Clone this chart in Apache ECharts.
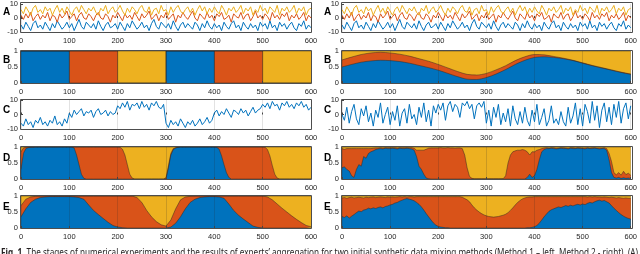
<!DOCTYPE html>
<html><head><meta charset="utf-8">
<script src="https://cdn.jsdelivr.net/npm/echarts/dist/echarts.min.js"></script>
<style>html,body{margin:0;padding:0;background:#fff;overflow:hidden}#c{width:640px;height:254px}</style>
</head><body><div id="c"></div>
<script>
// ---------- tick labels ----------
const xTickValues = [0,100,200,300,400,500,600];
const signalTicks = [-10,0,10];
const shareTicks = [0,0.5,1];
const panelLetters = ['A','B','C','D','E'];
const captionBold = 'Fig. 1.';
const captionText = ' The stages of numerical experiments and the results of experts\u2019 aggregation for two initial synthetic data mixing methods (Method 1 \u2013 left, Method 2 - right). (A)';

// ---------- sample grids (x positions of samples) ----------
const xs5 = Array.from({length:121},(_,k)=>k*5);
const xs10 = Array.from({length:61},(_,k)=>k*10);
const xs20 = Array.from({length:31},(_,k)=>k*20);
const xs100 = [0,100,200,300,400,500,600];

// ---------- A: three source signals (step 5) ----------
const aYellow = [6,3,8,5,2,7,9,4,6,3, 8,5,7,2,6,9,4,7,3,8, 5,2,6,8,4,9,6,3,7,5, 8,4,2,7,5,9,3,6,8,4,
 6,9,5,2,7,4,8,6,3,7, 9,5,4,8,2,6,7,3,9,5, 6,2,8,4,7,9,5,3,6,8, 4,7,2,6,9,5,8,3,7,4,
 8,5,3,9,6,2,7,5,8,4, 6,9,3,7,5,8,2,6,4,9, 5,7,3,8,6,4,9,2,7,5, 8,4,6,9,3,7,5,8,2,6, 7];
const aOrange = [2,-1,3,0,4,-2,1,3,-1,2, 0,4,-2,2,1,-3,3,0,2,5, -1,1,3,-2,2,4,0,-1,3,1, -2,2,4,0,-1,3,1,-3,2,0,
 4,1,-2,3,0,2,-1,4,1,-2, 3,0,2,5,-1,1,3,-2,2,0, 4,-1,1,3,-3,2,0,4,1,-1, 2,5,0,-2,3,1,-1,4,0,2,
 -2,3,1,4,-1,0,2,-3,3,1, 0,4,-1,2,3,-2,1,5,0,2, -1,3,1,-2,4,0,2,-1,3,1, 4,-2,2,0,3,-1,1,4,-2,2, 0];
const aBlue = [-5,-8,-3,-6,-9,-4,-2,-7,-5,-8, -3,-6,-9,-4,-7,-2,-5,-8,-6,-3, -7,-4,-9,-5,-1,-6,-8,-3,-5,-7, -4,-8,-2,-6,-9,-5,-3,-7,-6,-4,
 -8,-3,-6,-9,-4,-7,-2,-5,-8,-6, -3,-7,-5,-9,-4,-1,-6,-8,-3,-5, -7,-4,-8,-2,-6,-9,-5,-3,-7,-4, -6,-8,-3,-5,-9,-4,-7,-2,-6,-8,
 -4,-7,-5,-9,-3,-6,-8,-4,-2,-7, -5,-9,-3,-6,-8,-4,-7,-5,-9,-3, -6,-4,-8,-2,-7,-5,-9,-3,-6,-4, -8,-5,-3,-7,-9,-4,-6,-2,-8,-5, -7];

// ---------- B: mixing weights ----------
const bLeftBlue   = [1,0,0,1,0,0,0];
const bLeftOrange = [0,1,0,0,1,0,0];
const bRightBlue = [0.50,0.58,0.65,0.69,0.71,0.70,0.67,0.62,0.55,0.48,0.40,0.30,0.20,0.12,0.11,0.17,0.28,0.42,0.58,0.71,0.80,0.82,0.80,0.76,0.70,0.62,0.54,0.47,0.40,0.33,0.27];
const bRightOrange = [0.22,0.23,0.24,0.25,0.25,0.24,0.23,0.22,0.21,0.20,0.18,0.17,0.16,0.15,0.14,0.13,0.13,0.12,0.12,0.11,0.09,0.06,0.03,0.015,0.01,0.01,0.01,0.01,0.01,0.01,0.01];

// ---------- C: mixed signals (step 5) ----------
const cLeft = [-6,-8,-3,-7,-5,-9,-4,-6,-2,-7,-5,-8,-4,-6,-1,-7,-5,-8,-3,-6,
 1,-2,3,0,2,4,-1,2,1,3,-2,2,4,0,1,3,-1,2,0,1,
 6,4,8,5,9,3,7,6,8,4,9,5,7,3,8,6,9,5,4,7,
 -6,-9,-4,-7,-5,-8,-3,-6,-9,-5,-7,-4,-8,-6,-3,-7,-5,-2,-6,-4,
 1,3,-1,2,0,4,1,-2,3,2,0,4,1,3,-1,2,5,1,3,4,
 7,5,8,4,9,6,7,3,8,6,9,5,7,4,8,6,9,5,7,3, 5];
const cRight = [0,-4,5,-6,2,7,-3,-7,4,-1,6,-5,1,-8,3,-2,8,-6,0,5,
 -7,2,-4,6,-8,1,4,-6,7,-3,0,-7,5,-2,8,-5,3,-8,6,1,
 7,3,8,-4,6,9,2,7,5,-2,8,6,9,4,7,-3,6,8,5,9,
 -6,3,-8,5,-2,7,-7,1,-5,4,-8,6,-3,-7,2,-6,5,-4,-8,3,
 -5,7,-7,-2,4,-8,-4,6,-6,-3,-7,2,-5,-8,5,-6,-1,8,-7,4,
 -8,7,2,-6,9,-4,6,-9,3,8,-5,5,-7,7,-2,9,-6,4,8,-3, 6];

// ---------- D: expert weights (step 5, shares) ----------
const dLeftBlue = [0.3,0.8,0.95,0.98,0.99,0.99,1,1,1,1,1,1,1,1,1,1,1,1,1,1,
 1,1,0.97,0.75,0.45,0.15,0.02,0,0,0,0,0,0,0,0,0,0,0,0,0,
 0,0,0,0,0,0,0,0,0,0,0,0,0,0,0,0,0,0,0,0,
 0,0.35,0.75,0.92,0.97,0.99,1,1,1,1,1,1,1,1,1,1,1,1,1,1,
 1,0.99,0.93,0.72,0.45,0.2,0.05,0,0,0,0,0,0,0,0,0,0,0,0,0,
 0,0,0,0,0,0,0,0,0,0,0,0,0,0,0,0,0,0,0,0, 0];
const dLeftOrange = [0.55,0.17,0.04,0.02,0.01,0.01,0,0,0,0,0,0,0,0,0,0,0,0,0,0,
 0,0,0.03,0.25,0.55,0.85,0.98,1,1,1,1,1,1,1,1,1,1,1,1,1,
 1,0.99,0.93,0.75,0.45,0.15,0.03,0,0,0,0,0,0,0,0,0,0,0,0,0,
 0.04,0.06,0.05,0.03,0.01,0,0,0,0,0,0,0,0,0,0,0,0,0,0,0,
 0,0.01,0.07,0.28,0.55,0.8,0.95,1,1,1,1,1,1,1,1,1,1,1,1,1,
 1,0.99,0.92,0.72,0.42,0.15,0.03,0,0,0,0,0,0,0,0,0,0,0,0,0, 0];
const dRightBlue = [0.35,0.38,0.3,0.25,0.1,0.05,0.3,0.45,0.4,0.7,0.65,0.8,0.85,0.88,0.92,0.94,0.95,0.94,0.96,0.95,
 0.95,0.96,0.95,0.94,0.96,0.95,0.95,0.96,0.95,0.94,0.9,0.7,0.4,0.3,0.15,0.03,0.01,0,0,0,
 0,0,0,0,0,0,0,0,0,0,0,0,0,0,0,0,0,0,0,0,
 0,0,0,0,0,0,0,0,0,0,0,0,0,0,0,0,0,0.05,0.15,0.05,
 0.1,0.3,0.6,0.85,0.92,0.95,0.95,0.96,0.95,0.94,0.95,0.96,0.95,0.95,0.94,0.96,0.95,0.95,0.96,0.95,
 0.95,0.94,0.96,0.95,0.95,0.96,0.95,0.94,0.95,0.95,0.9,0.6,0.2,0.05,0.03,0.05,0.02,0.04,0.02,0.03, 0.02];
const dRightOrange = [0.6,0.55,0.65,0.7,0.85,0.9,0.65,0.5,0.55,0.25,0.3,0.15,0.1,0.08,0.05,0.03,0.03,0.03,0.02,0.03,
 0.03,0.02,0.03,0.03,0.02,0.03,0.03,0.02,0.03,0.04,0.06,0.2,0.5,0.6,0.75,0.9,0.95,0.97,0.97,0.97,
 0.97,0.98,0.97,0.97,0.98,0.97,0.97,0.96,0.97,0.97,0.95,0.75,0.35,0.08,0.02,0.01,0.01,0.01,0.01,0.01,
 0.01,0.01,0.01,0.01,0.01,0.01,0.01,0.01,0.1,0.5,0.75,0.85,0.88,0.9,0.9,0.92,0.9,0.8,0.6,0.8,
 0.75,0.6,0.32,0.1,0.05,0.03,0.02,0.02,0.03,0.02,0.02,0.02,0.03,0.02,0.02,0.02,0.03,0.02,0.02,0.03,
 0.02,0.03,0.02,0.02,0.03,0.02,0.02,0.03,0.02,0.03,0.05,0.2,0.35,0.15,0.1,0.15,0.1,0.2,0.12,0.15, 0.1];

// ---------- E: aggregated weights ----------
const eLeftBlue = [0.35,0.6,0.8,0.9,0.95,0.97,0.98,0.98,0.98,0.98,
 0.98,0.97,0.95,0.9,0.72,0.55,0.42,0.3,0.18,0.08,
 0.03,0.01,0,0,0,0,0,0,0,0,
 0,0.03,0.15,0.35,0.6,0.8,0.9,0.95,0.97,0.98,
 0.98,0.97,0.93,0.75,0.55,0.4,0.28,0.17,0.06,0.02,
 0,0,0,0,0,0,0,0,0,0, 0];
const eLeftOrange = [0.35,0.3,0.17,0.09,0.05,0.03,0.02,0.02,0.02,0.02,
 0.02,0.03,0.05,0.1,0.28,0.45,0.58,0.7,0.82,0.92,
 0.97,0.99,1,1,0.95,0.8,0.55,0.35,0.2,0.1,
 0.06,0.22,0.45,0.53,0.37,0.19,0.1,0.05,0.03,0.02,
 0.02,0.03,0.07,0.25,0.45,0.6,0.72,0.83,0.94,0.98,
 1,0.97,0.88,0.75,0.62,0.5,0.38,0.27,0.17,0.08, 0.04];
const eRightBlue = [0.36,0.33,0.38,0.31,0.37,0.42,0.48,0.53,0.51,0.56,0.58,0.62,0.6,0.63,0.61,0.64,0.66,0.63,0.67,0.69,
 0.72,0.74,0.78,0.8,0.84,0.87,0.9,0.92,0.9,0.88,0.85,0.8,0.74,0.66,0.56,0.45,0.35,0.25,0.16,0.09,
 0.05,0.03,0.02,0.01,0.01,0,0,0,0,0,0,0,0,0,0,0,0,0,0,0,
 0,0,0,0,0,0,0,0,0,0,0,0,0,0,0,0,0,0.01,0.01,0.02,
 0.04,0.08,0.15,0.25,0.35,0.44,0.52,0.57,0.6,0.63,0.66,0.64,0.67,0.7,0.68,0.71,0.69,0.72,0.74,0.72,
 0.75,0.73,0.77,0.8,0.78,0.82,0.85,0.87,0.84,0.86,0.82,0.78,0.7,0.62,0.55,0.48,0.42,0.37,0.33,0.3, 0.28];
// upper edge of the orange band (blue + orange)
const eRightBlueOrange = [0.94,0.95,0.93,0.95,0.96,0.94,0.95,0.96,0.95,0.94,0.96,0.95,0.96,0.97,0.95,0.96,0.97,0.96,0.95,0.97,
 0.96,0.97,0.96,0.97,0.98,0.97,0.98,0.97,0.98,0.98,0.97,0.98,0.98,0.98,0.98,0.98,0.98,0.98,0.98,0.98,
 0.98,0.98,0.98,0.98,0.98,0.98,0.98,0.98,0.98,0.98,0.96,0.92,0.88,0.82,0.72,0.63,0.56,0.5,0.45,0.41,
 0.38,0.36,0.35,0.34,0.35,0.36,0.38,0.4,0.43,0.48,0.55,0.63,0.72,0.8,0.86,0.91,0.94,0.96,0.97,0.97,
 0.98,0.98,0.98,0.98,0.98,0.98,0.98,0.98,0.98,0.98,0.98,0.98,0.98,0.98,0.98,0.98,0.98,0.98,0.98,0.98,
 0.98,0.98,0.97,0.98,0.97,0.98,0.97,0.97,0.96,0.97,0.96,0.95,0.96,0.95,0.94,0.95,0.94,0.93,0.94,0.93, 0.93];

// ---------- styling ----------
const C_BLUE='#0072BD', C_ORANGE='#D95319', C_YELLOW='#EDB120';
const rows=[{top:3,h:29},{top:51,h:32},{top:100,h:29},{top:147,h:32},{top:196,h:32}];
const cols=[{left:21,w:290},{left:342,w:290}];
const FONT='Liberation Sans';

const cum=(a,b)=>a.map((v,k)=>v+b[k]);
const panels=[
 {row:0,col:0,kind:'lines',xs:xs5,ys:[aBlue,aOrange,aYellow]},
 {row:0,col:1,kind:'lines',xs:xs5,ys:[aBlue,aOrange,aYellow]},
 {row:1,col:0,kind:'area',xs:xs100,blue:bLeftBlue,top:cum(bLeftBlue,bLeftOrange),step:'end'},
 {row:1,col:1,kind:'area',xs:xs20,blue:bRightBlue,top:cum(bRightBlue,bRightOrange),smooth:0.3},
 {row:2,col:0,kind:'lines',xs:xs5,ys:[cLeft]},
 {row:2,col:1,kind:'lines',xs:xs5,ys:[cRight]},
 {row:3,col:0,kind:'area',xs:xs5,blue:dLeftBlue,top:cum(dLeftBlue,dLeftOrange)},
 {row:3,col:1,kind:'area',xs:xs5,blue:dRightBlue,top:cum(dRightBlue,dRightOrange)},
 {row:4,col:0,kind:'area',xs:xs10,blue:eLeftBlue,top:cum(eLeftBlue,eLeftOrange)},
 {row:4,col:1,kind:'area',xs:xs5,blue:eRightBlue,top:eRightBlueOrange}
];

const grid=[],xAxis=[],yAxis=[],series=[],graphic=[];
panels.forEach((p,i)=>{
 const r=rows[p.row],c=cols[p.col];
 const isLine=p.kind==='lines';
 const yt=isLine?signalTicks:shareTicks;
 grid.push({left:c.left,top:r.top,width:c.w,height:r.h,containLabel:false});
 xAxis.push({gridIndex:i,type:'value',min:xTickValues[0],max:xTickValues[xTickValues.length-1],interval:xTickValues[1]-xTickValues[0],
  z:isLine?0:10,
  axisLine:{show:false},
  axisTick:{show:true,inside:true,length:2,lineStyle:{color:'#444',width:1}},
  axisLabel:{fontSize:7.5,color:'#262626',margin:5,fontFamily:FONT},
  splitLine:{show:true,lineStyle:{color:isLine?'#e2e2e2':'rgba(40,40,40,0.18)',width:1}}
 });
 yAxis.push({gridIndex:i,type:'value',min:yt[0],max:yt[2],interval:yt[1]-yt[0],
  axisLine:{show:false},
  axisTick:{show:true,inside:true,length:2,lineStyle:{color:'#444',width:1}},
  axisLabel:{fontSize:7.5,color:'#262626',margin:3,fontFamily:FONT},
  splitLine:{show:false}
 });
 if(isLine){
  const colsL=p.ys.length===3?[C_BLUE,C_ORANGE,C_YELLOW]:[C_BLUE];
  p.ys.forEach((ys,k)=>{
   series.push({type:'line',xAxisIndex:i,yAxisIndex:i,showSymbol:false,symbol:'none',animation:false,
    data:p.xs.map((x,j)=>[x,ys[j]]),lineStyle:{color:colsL[k],width:1},z:2});
  });
 } else {
  const edge={color:'rgba(35,35,35,0.75)',width:0.6};
  const mk=(vals,color)=>({type:'line',xAxisIndex:i,yAxisIndex:i,showSymbol:false,symbol:'none',animation:false,
    step:p.step||false,smooth:p.smooth||false,
    data:p.xs.map((x,j)=>[x,vals[j]]),lineStyle:edge,areaStyle:{color:color,opacity:1},z:2});
  series.push(mk(p.xs.map(()=>yt[2]),C_YELLOW));
  series.push(mk(p.top,C_ORANGE));
  series.push(mk(p.blue,C_BLUE));
 }
 graphic.push({type:'rect',silent:true,z:100,shape:{x:c.left-0.5,y:r.top-0.5,width:c.w+1,height:r.h+1},
  style:{fill:null,stroke:'#4d4d4d',lineWidth:1}});
});

const letterY=[12.5,60.5,110,158,207];
[3,324].forEach(lx=>{
 panelLetters.forEach((L,k)=>{
  graphic.push({type:'text',silent:true,z:100,x:lx,y:letterY[k],
   style:{text:L,font:'bold 10px '+FONT,fill:'#000',textAlign:'left',textVerticalAlign:'middle'}});
 });
});

// caption (fit to page width)
const ctx=document.createElement('canvas').getContext('2d');
const capFontB='bold 10px "Noto Sans"', capFont='10px "Noto Sans"';
ctx.font=capFontB; const wB=ctx.measureText(captionBold).width;
ctx.font=capFont; const wT=ctx.measureText(captionText).width;
const sc=637/(wB+wT);
graphic.push({type:'text',silent:true,z:100,x:1,y:248,scaleX:sc,style:{text:captionBold,font:capFontB,fill:'#231f20',textVerticalAlign:'top'}});
graphic.push({type:'text',silent:true,z:100,x:1+wB*sc,y:248,scaleX:sc,style:{text:captionText,font:capFont,fill:'#231f20',textVerticalAlign:'top'}});

const chart=echarts.init(document.getElementById('c'),null,{renderer:'canvas'});
chart.setOption({animation:false,grid,xAxis,yAxis,series,graphic});
</script></body></html>
